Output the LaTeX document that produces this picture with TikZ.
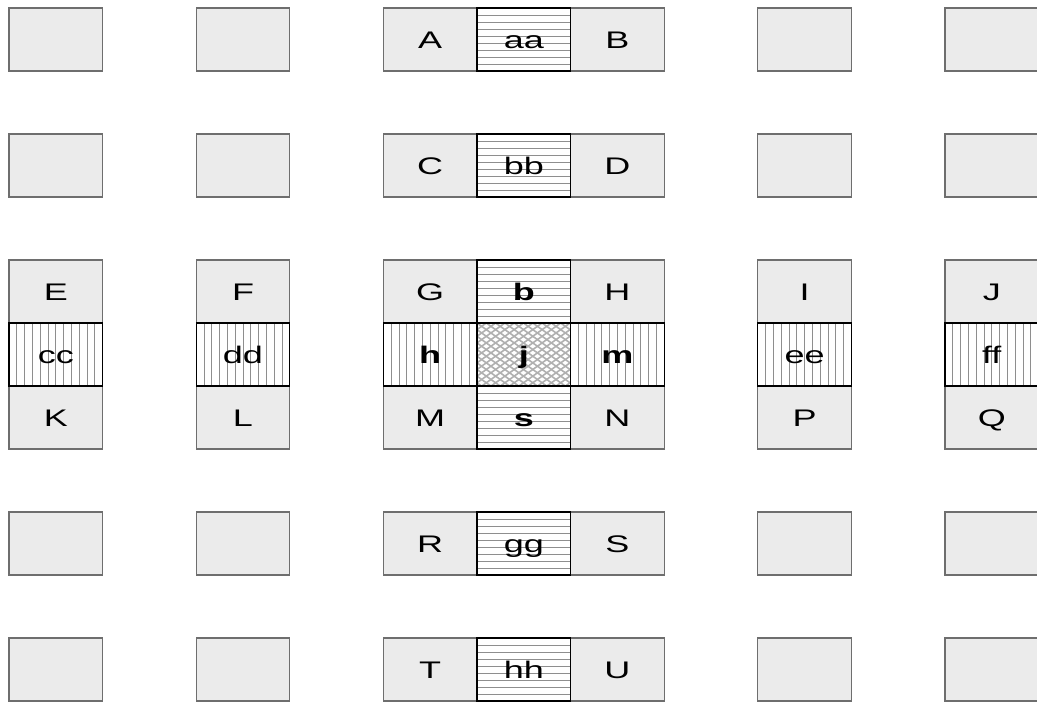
\documentclass[tikz,border=0pt]{standalone}
\usepackage{fontspec}
\setmainfont{Liberation Sans}
\definecolor{cellfill}{HTML}{EBEBEB}
\definecolor{cellborder}{HTML}{6E6E6E}
\definecolor{hatchcol}{HTML}{8E8E8E}
\definecolor{crosscol}{HTML}{B0B0B0}
\newcommand\lbl[1]{\scalebox{1.5}[1]{#1}}
\newcommand\cellnode[5]{\node[#4] (#1) at ({9+93.6*(#2+0.5)},{8+63*(#3+0.5)}) {#5};}
\tikzset{
  cellbase/.style={rectangle, minimum width=93.6pt, minimum height=63pt, inner sep=0pt, outer sep=0pt,
    font=\fontsize{24}{28}\selectfont, text=black, text height=17pt, text depth=0pt},
  plain/.style={cellbase, draw=cellborder, fill=cellfill, line width=1.3pt},
  hatchbase/.style={cellbase, draw=black, fill=white, line width=1.3pt},
  hhatch/.style={hatchbase, path picture={
      \foreach \i in {1,...,8}
        \draw[hatchcol, line width=0.9pt]
          ([yshift=-\i*7pt]path picture bounding box.north west) --
          ([yshift=-\i*7pt]path picture bounding box.north east);}},
  vhatch/.style={hatchbase, path picture={
      \foreach \i in {1,...,11}
        \draw[hatchcol, line width=0.9pt]
          ([xshift=\i*7.8pt]path picture bounding box.north west) --
          ([xshift=\i*7.8pt]path picture bounding box.south west);}},
  xhatch/.style={hatchbase, path picture={
      \foreach \i in {-12,...,22} {
        \draw[crosscol, line width=1.6pt]
          ([xshift=\i*9.3pt]path picture bounding box.north west) -- ++(98,70);
        \draw[crosscol, line width=1.6pt]
          ([xshift=\i*9.3pt]path picture bounding box.north west) -- ++(-98,70);}}},
  boldlbl/.style={font=\fontsize{24}{28}\selectfont\bfseries}
}
\begin{document}
\begin{tikzpicture}[x=1pt,y=-1pt]
\clip (0,0) rectangle (1037,702);
\fill[white] (0,0) rectangle (1037,702);
% row 0
\cellnode{e01}{0}{0}{plain}{}
\cellnode{e02}{2}{0}{plain}{}
\cellnode{A}{4}{0}{plain}{\lbl{A}}
\cellnode{B}{6}{0}{plain}{\lbl{B}}
\cellnode{e03}{8}{0}{plain}{}
\cellnode{e04}{10}{0}{plain}{}
\cellnode{aa}{5}{0}{hhatch}{\lbl{aa}}
% row 2
\cellnode{e21}{0}{2}{plain}{}
\cellnode{e22}{2}{2}{plain}{}
\cellnode{C}{4}{2}{plain}{\lbl{C}}
\cellnode{D}{6}{2}{plain}{\lbl{D}}
\cellnode{e23}{8}{2}{plain}{}
\cellnode{e24}{10}{2}{plain}{}
\cellnode{bb}{5}{2}{hhatch}{\lbl{bb}}
% rows 4-6
\cellnode{E}{0}{4}{plain}{\lbl{E}}
\cellnode{F}{2}{4}{plain}{\lbl{F}}
\cellnode{G}{4}{4}{plain}{\lbl{G}}
\cellnode{H}{6}{4}{plain}{\lbl{H}}
\cellnode{I}{8}{4}{plain}{\lbl{I}}
\cellnode{J}{10}{4}{plain}{\lbl{J}}
\cellnode{K}{0}{6}{plain}{\lbl{K}}
\cellnode{L}{2}{6}{plain}{\lbl{L}}
\cellnode{M}{4}{6}{plain}{\lbl{M}}
\cellnode{N}{6}{6}{plain}{\lbl{N}}
\cellnode{P}{8}{6}{plain}{\lbl{P}}
\cellnode{Q}{10}{6}{plain}{\lbl{Q}}
\cellnode{b}{5}{4}{hhatch,boldlbl}{\lbl{b}}
\cellnode{s}{5}{6}{hhatch,boldlbl}{\lbl{s}}
\cellnode{cc}{0}{5}{vhatch}{\lbl{cc}}
\cellnode{dd}{2}{5}{vhatch}{\lbl{dd}}
\cellnode{h}{4}{5}{vhatch,boldlbl}{\lbl{h}}
\cellnode{m}{6}{5}{vhatch,boldlbl}{\lbl{m}}
\cellnode{ee}{8}{5}{vhatch}{\lbl{ee}}
\cellnode{ff}{10}{5}{vhatch}{\lbl{ff}}
\cellnode{j}{5}{5}{xhatch,boldlbl}{\lbl{j}}
% row 8
\cellnode{e81}{0}{8}{plain}{}
\cellnode{e82}{2}{8}{plain}{}
\cellnode{R}{4}{8}{plain}{\lbl{R}}
\cellnode{S}{6}{8}{plain}{\lbl{S}}
\cellnode{e83}{8}{8}{plain}{}
\cellnode{e84}{10}{8}{plain}{}
\cellnode{gg}{5}{8}{hhatch}{\lbl{gg}}
% row 10
\cellnode{e101}{0}{10}{plain}{}
\cellnode{e102}{2}{10}{plain}{}
\cellnode{T}{4}{10}{plain}{\lbl{T}}
\cellnode{U}{6}{10}{plain}{\lbl{U}}
\cellnode{e103}{8}{10}{plain}{}
\cellnode{e104}{10}{10}{plain}{}
\cellnode{hh}{5}{10}{hhatch}{\lbl{hh}}
\end{tikzpicture}
\end{document}
